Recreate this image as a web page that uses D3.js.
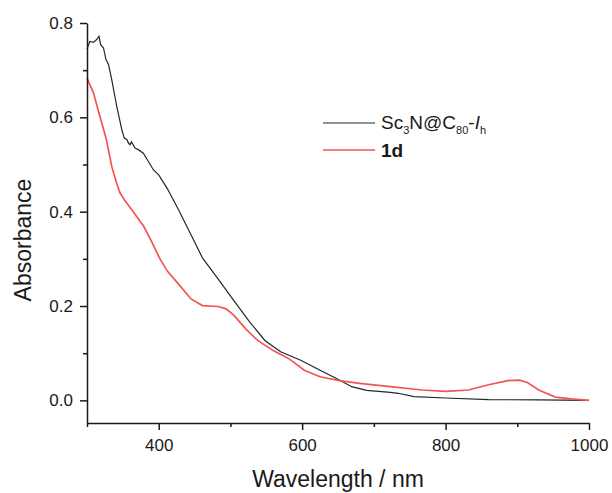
<html>
<head>
<script src="https://d3js.org/d3.v7.min.js"></script>
<style>
  body { margin: 0; background: #fff; }
  text { font-family: "Liberation Sans", Arial, sans-serif; fill: #1a1a1a; }
</style>
</head>
<body>
<svg id="chart" width="612" height="493"></svg>
<script>
// Sc3N@C80-Ih spectrum
var wlSc = [300,304,309,313.5,316.7,319,323,326.5,330,334.5,341.5,348.5,352,355.5,358,360,362,367,372,378.5,385,392.5,400,412,428,445,461,483,505,527,548,570,598,625,652,669,690,723,734,756,800,860,930,1000];
var absSc = [0.745,0.761,0.759,0.765,0.772,0.754,0.747,0.722,0.712,0.680,0.623,0.574,0.556,0.553,0.545,0.542,0.548,0.535,0.531,0.524,0.508,0.489,0.478,0.449,0.403,0.351,0.302,0.257,0.211,0.166,0.127,0.103,0.085,0.064,0.043,0.029,0.021,0.017,0.015,0.008,0.005,0.0015,0.001,0];

// 1d spectrum
var wl1d = [300,309,316,327,334.5,341,346,353,363,379,390,401,412,428,445,461,483,494,505,521,538,559,581,603,625,652,680,723,767,800,832,860,887,903,914,930,953,975,1000];
var abs1d = [0.683,0.652,0.613,0.553,0.496,0.462,0.440,0.423,0.403,0.369,0.337,0.302,0.274,0.246,0.215,0.201,0.199,0.194,0.180,0.152,0.127,0.106,0.089,0.064,0.050,0.042,0.036,0.029,0.022,0.019,0.022,0.033,0.042,0.043,0.038,0.022,0.007,0.003,0];

var xMajor = [400,600,800,1000];
var xMinor = [300,500,700,900];
var yMajor = [0,0.2,0.4,0.6,0.8];
var yMinor = [0.1,0.3,0.5,0.7];

var svg = d3.select("#chart");
var x = d3.scaleLinear().domain([300,1000]).range([87,589]);
var y = d3.scaleLinear().domain([-0.048,0.8]).range([423,23]);

var line = d3.line().x(d => x(d[0])).y(d => y(d[1]));

svg.append("path")
  .datum(wlSc.map((w,i) => [w, absSc[i]]))
  .attr("d", line).attr("fill","none").attr("stroke","#1e2a2a").attr("stroke-width",1.2);
svg.append("path")
  .datum(wl1d.map((w,i) => [w, abs1d[i]]))
  .attr("d", line).attr("fill","none").attr("stroke","#f25550").attr("stroke-width",1.7);

// axes
svg.append("g").attr("transform","translate(0,423)")
  .call(d3.axisBottom(x).tickValues(xMajor).tickSize(7).tickSizeOuter(0).tickPadding(9).tickFormat(d3.format("d")));
svg.append("g").attr("transform","translate(0,423)")
  .call(d3.axisBottom(x).tickValues(xMinor).tickSize(4).tickFormat(""))
  .select(".domain").remove();
svg.append("g").attr("transform","translate(87,0)")
  .call(d3.axisLeft(y).tickValues(yMajor).tickSize(7).tickSizeOuter(0).tickPadding(7).tickFormat(d3.format(".1f")));
svg.append("g").attr("transform","translate(87,0)")
  .call(d3.axisLeft(y).tickValues(yMinor).tickSize(4).tickFormat(""))
  .select(".domain").remove();

svg.selectAll(".domain, .tick line").attr("stroke","#1a1a1a").attr("stroke-width",1.5);
svg.selectAll(".tick text").style("font-size","17px").attr("fill","#1a1a1a")
  .style("font-family","'Liberation Sans', Arial, sans-serif");

// titles
svg.append("text").attr("x",338).attr("y",487).attr("text-anchor","middle")
  .style("font-size","23px").text("Wavelength / nm");
svg.append("text").attr("transform","translate(31,240) rotate(-90)").attr("text-anchor","middle")
  .style("font-size","23px").text("Absorbance");

// legend
svg.append("line").attr("x1",323).attr("x2",375).attr("y1",123).attr("y2",123)
  .attr("stroke","#1e2a2a").attr("stroke-width",1.2);
svg.append("line").attr("x1",323).attr("x2",375).attr("y1",150).attr("y2",150)
  .attr("stroke","#f25550").attr("stroke-width",1.7);

var lt = svg.append("text").attr("x",381).attr("y",129).style("font-size","19px");
lt.append("tspan").text("Sc");
lt.append("tspan").attr("dy",5).style("font-size","11px").text("3");
lt.append("tspan").attr("dy",-5).text("N@C");
lt.append("tspan").attr("dy",5).style("font-size","11px").text("80");
lt.append("tspan").attr("dy",-5).text("-");
lt.append("tspan").style("font-style","italic").text("I");
lt.append("tspan").attr("dy",5).style("font-size","11px").text("h");

svg.append("text").attr("x",381).attr("y",157).style("font-size","19px").style("font-weight","bold").text("1d");
</script>
</body>
</html>
